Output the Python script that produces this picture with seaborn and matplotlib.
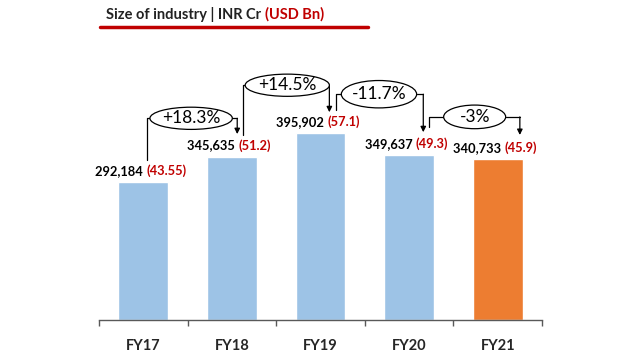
import matplotlib
matplotlib.use("Agg")
import matplotlib.pyplot as plt
from matplotlib.patches import Ellipse
import seaborn as sns
import pandas as pd

# chart data
years = ["FY17", "FY18", "FY19", "FY20", "FY21"]
inr_cr = [292184, 345635, 395902, 349637, 340733]
usd_bn = ["43.55", "51.2", "57.1", "49.3", "45.9"]
growth = ["+18.3%", "+14.5%", "-11.7%", "-3%"]

bar_colors = ["#9DC3E6", "#9DC3E6", "#9DC3E6", "#9DC3E6", "#ED7D31"]
red = "#C00000"

# connector layout: (left leg x, ellipse centre x, right leg x, ellipse y, ellipse w, ellipse h,
#                    left leg offset above bar, arrow end offset above bar)
conn = [
    (0.045, 0.54, 1.06, 427000, 0.93, 47000, 46000, 48000),
    (1.13, 1.625, 2.10, 497000, 0.95, 47000, 46000, 44000),
    (2.18, 2.66, 3.16, 478000, 0.85, 58000, 49000, 48000),
    (3.23, 3.74, 4.25, 430000, 0.70, 50000, 59000, 51000),
]

sns.set_theme(style="white")
plt.rcParams["font.family"] = ["Lato", "DejaVu Sans"]

fig = plt.figure(figsize=(6.42, 3.61), dpi=100)
ax = fig.add_axes([99 / 642, 41 / 361, 443 / 642, 280 / 361])

df = pd.DataFrame({"year": years, "value": inr_cr})
sns.barplot(data=df, x="year", y="value", hue="year", palette=bar_colors,
            width=0.56, legend=False, ax=ax, saturation=1)

ax.set_xlim(-0.5, 4.5)
ax.set_ylim(0, 280 * 2117)
for s in ["top", "right", "left"]:
    ax.spines[s].set_visible(False)
ax.spines["bottom"].set_color("#595959")
ax.spines["bottom"].set_linewidth(1.0)
ax.set_yticks([])
ax.set_xlabel("")
ax.set_ylabel("")

ax.set_xticks([i - 0.5 for i in range(6)])
ax.set_xticklabels([])
ax.set_xticks(range(5), minor=True)
ax.set_xticklabels(years, minor=True, fontsize=10.5, fontweight="bold")
ax.tick_params(axis="x", which="major", direction="out", length=4, width=1,
               color="#595959", bottom=True)
ax.tick_params(axis="x", which="minor", length=0, pad=14)

# value labels: black INR part + red USD part, centred together
fig.canvas.draw()
renderer = fig.canvas.get_renderer()
for i, (v, u) in enumerate(zip(inr_cr, usd_bn)):
    y = v + 11000
    t1 = ax.text(i, y, f"{v:,} ", ha="left", va="bottom", fontsize=9.3,
                 fontweight="bold", color="black")
    t2 = ax.annotate(f"({u})", xy=(1, 0), xycoords=t1, ha="left", va="bottom",
                     fontsize=9.3, fontweight="bold", color=red)
    w1 = t1.get_window_extent(renderer).width
    w2 = t2.get_window_extent(renderer).width
    x0_disp = ax.transData.transform((i, y))[0] - (w1 + w2) / 2
    x0 = ax.transData.inverted().transform((x0_disp, 0))[0]
    t1.set_x(x0 - 0.03)

# growth bubbles with elbow connectors
for k, (lx, cx, rx, ey, ew, eh, loff, aoff) in enumerate(conn):
    ax.add_patch(Ellipse((cx, ey), ew, eh, facecolor="white", edgecolor="black",
                         lw=0.9, zorder=4))
    ax.text(cx, ey, growth[k], ha="center", va="center", fontsize=12.5,
            color="black", zorder=5)
    ax.plot([lx, lx, cx - ew / 2], [inr_cr[k] + loff, ey, ey], color="black",
            lw=0.9, zorder=3)
    ax.plot([cx + ew / 2, rx], [ey, ey], color="black", lw=0.9, zorder=3)
    ax.annotate("", xy=(rx, inr_cr[k + 1] + aoff), xytext=(rx, ey),
                arrowprops=dict(arrowstyle="-|>", color="black", lw=0.9,
                                mutation_scale=8, shrinkA=0, shrinkB=0),
                zorder=3)

# title with red rule
t = fig.text(106 / 642, 1 - 14 / 361, "Size of industry | INR Cr ", ha="left",
             va="center", fontsize=10.5, fontweight="bold", color="#222222")
fig.canvas.draw()
w = t.get_window_extent(renderer)
fig.text(w.x1 / 642, 1 - 14 / 361, "(USD Bn)", ha="left", va="center",
         fontsize=10.5, fontweight="bold", color=red)
fig.add_artist(plt.Line2D([100 / 642, 368 / 642], [1 - 27 / 361, 1 - 27 / 361],
                          color=red, lw=2.5))

fig.savefig("out.png", dpi=100)
